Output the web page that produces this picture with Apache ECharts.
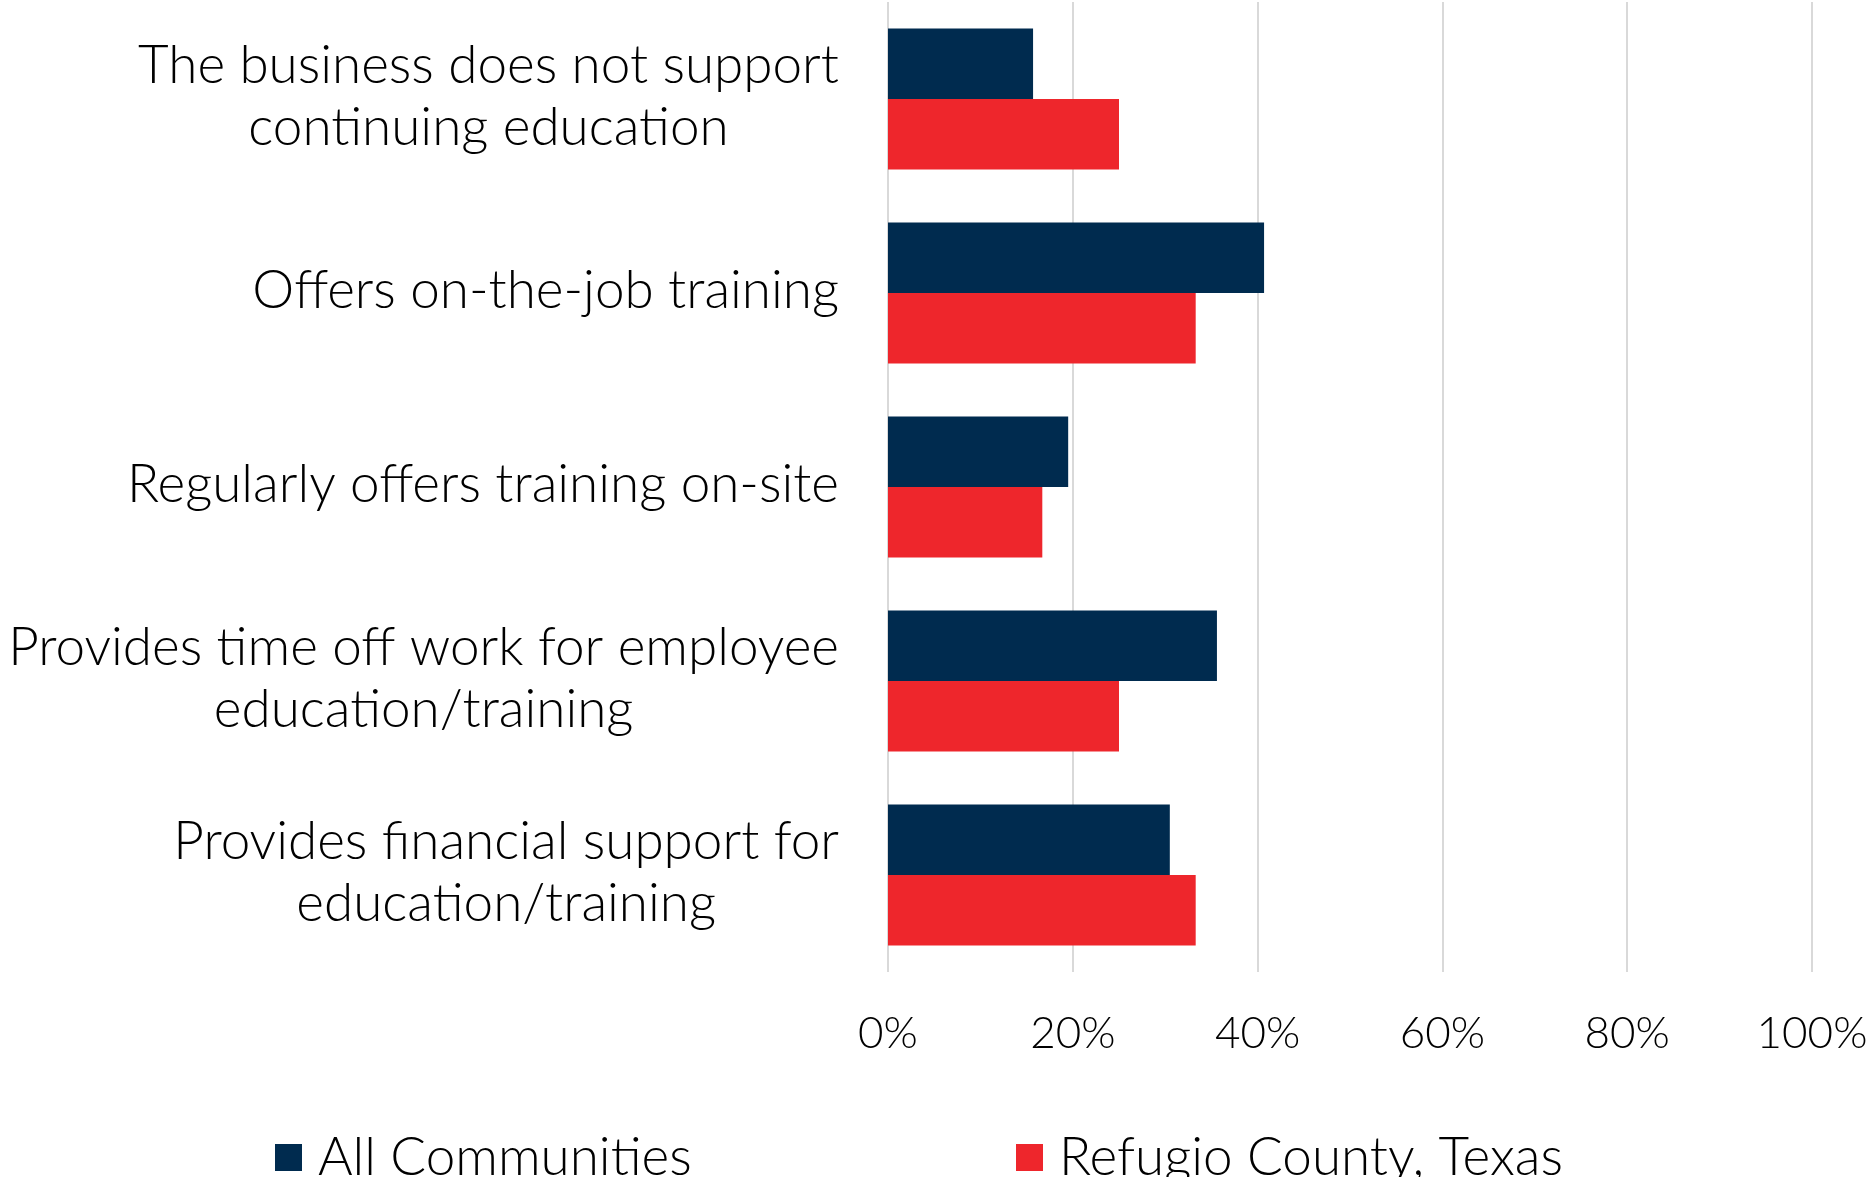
<!DOCTYPE html>
<html>
<head>
<meta charset="utf-8">
<script src="https://cdn.jsdelivr.net/npm/echarts@6/dist/echarts.min.js"></script>
<style>
html,body{margin:0;padding:0;background:#fff;}
#chart{width:1872px;height:1177px;}
</style>
</head>
<body>
<div id="chart"></div>
<script>
var categories = [
  "The business does not support\ncontinuing education",
  "Offers on-the-job training",
  "Regularly offers training on-site",
  "Provides time off work for employee\neducation/training",
  "Provides financial support for\neducation/training"
];
var seriesNames = ["All Communities", "Refugio County, Texas"];
var allCommunities = [15.7, 40.7, 19.5, 35.6, 30.5];
var refugio = [25.0, 33.3, 16.7, 25.0, 33.3];
var tickValues = [0, 20, 40, 60, 80, 100];

var FONT = "Lato";
var W = 300;
var chart = echarts.init(document.getElementById('chart'));
chart.setOption({
  animation: false,
  textStyle: { fontFamily: FONT, color: '#000' },
  grid: { left: 888, right: 60, top: 2, height: 970, containLabel: false },
  legend: [
    { data: [seriesNames[0]], left: 270, top: 1126, itemWidth: 27, itemHeight: 27, itemGap: 0,
      textStyle: { fontFamily: FONT, fontWeight: W, fontSize: 53, color: '#000', padding: [0,0,0,11] }, icon: 'rect' },
    { data: [seriesNames[1]], left: 1011, top: 1126, itemWidth: 27, itemHeight: 27, itemGap: 0,
      textStyle: { fontFamily: FONT, fontWeight: W, fontSize: 53, color: '#000', padding: [0,0,0,11] }, icon: 'rect' }
  ],
  xAxis: {
    type: 'value', min: 0, max: 100, interval: 20,
    axisLine: { show: false }, axisTick: { show: false },
    splitLine: { show: true, lineStyle: { color: '#D9D9D9', width: 2 } },
    axisLabel: { formatter: function (v) { return v + '%'; }, fontSize: 44, fontWeight: W, color: '#000', margin: 40, fontFamily: FONT }
  },
  yAxis: {
    type: 'category', data: categories, inverse: true,
    axisLine: { show: false }, axisTick: { show: false },
    axisLabel: {
      margin: 49, fontFamily: FONT, fontSize: 53, fontWeight: W, color: '#000', lineHeight: 62,
      padding: [0, 0, 5, 0],
      formatter: function (v) { return v.split('\n').map(function (l) { return '{c|' + l + '}'; }).join('\n'); },
      rich: { c: { align: 'center', fontFamily: FONT, fontSize: 53, fontWeight: W, lineHeight: 62, color: '#000' } }
    }
  },
  series: [
    { name: seriesNames[0], type: 'bar', data: allCommunities, barGap: '0%', barCategoryGap: '27.3%',
      itemStyle: { color: '#002B4F' } },
    { name: seriesNames[1], type: 'bar', data: refugio, barGap: '0%', barCategoryGap: '27.3%',
      itemStyle: { color: '#EE262C' } }
  ]
});
</script>
</body>
</html>
